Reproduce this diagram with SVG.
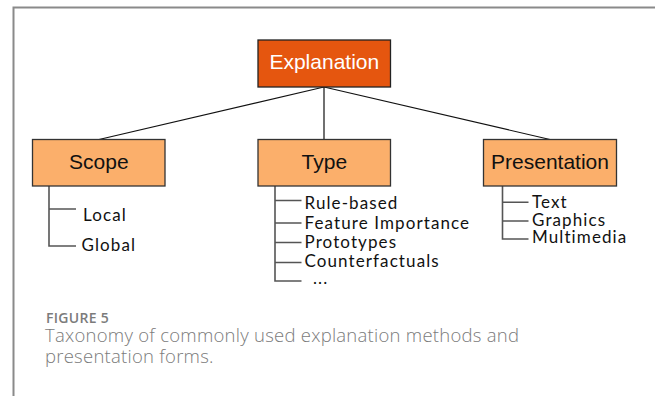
<svg xmlns="http://www.w3.org/2000/svg" width="655" height="396" viewBox="0 0 655 396">
<style>
.frame{stroke:#8a8a8a;stroke-width:2;fill:none}
.box{fill:#FBAF6B;stroke:#333;stroke-width:1.3}
.root{fill:#E5560F;stroke:#222;stroke-width:1.3}
.lbl{font-family:"Liberation Sans",Arial,sans-serif;font-size:21px;text-anchor:middle;fill:#111}
.rlbl{font-family:"Liberation Sans",Arial,sans-serif;font-size:21px;text-anchor:middle;fill:#fff}
.item{font-family:Lato,"Open Sans",sans-serif;font-size:17px;letter-spacing:1.1px;fill:#111}
.edge{stroke:#111;stroke-width:1.2;fill:none}
.tree{stroke:#555;stroke-width:1.6;fill:none}
.cap1{font-family:"Open Sans",sans-serif;font-size:14px;font-weight:600;letter-spacing:0.3px;fill:#7b7b7b}
.cap2{font-family:"Open Sans",sans-serif;font-size:18.5px;font-weight:300;letter-spacing:0.25px;fill:#7b7b7b}
</style>
<path class="frame" d="M13.5,396 V7.5 H655"/>
<g id="connectors">
<path class="edge" d="M324,87 L99,139.5"/>
<path class="edge" d="M324,87 V139.5"/>
<path class="edge" d="M324,87 L550,139.5"/>
<path class="tree" d="M49,186 V246 H76 M49,209 H76"/>
<path class="tree" d="M275,186 V281 H301.5 M275,200.5 H301.5 M275,223 H301.5 M275,242.5 H301.5 M275,262.5 H301.5"/>
<path class="tree" d="M502.5,186 V239 H528.5 M502.5,202.3 H528.5 M502.5,221 H528.5"/>
</g>
<g id="explanation">
<rect class="root" x="258" y="40" width="132.5" height="47"/>
<text class="rlbl" x="324.3" y="69.3">Explanation</text>
</g>
<g id="scope">
<rect class="box" x="32.5" y="139.5" width="132.5" height="46.5"/>
<text class="lbl" x="98.8" y="169.3">Scope</text>
<text class="item" x="83" y="220.5">Local</text>
<text class="item" x="81.5" y="250.5">Global</text>
</g>
<g id="type">
<rect class="box" x="258" y="139.5" width="132.5" height="46.5"/>
<text class="lbl" x="324.3" y="169.3">Type</text>
<text class="item" x="304.5" y="209.3">Rule-based</text>
<text class="item" x="304.5" y="229">Feature Importance</text>
<text class="item" x="304.5" y="248">Prototypes</text>
<text class="item" x="304.5" y="266.7">Counterfactuals</text>
<text class="item" x="313" y="284">...</text>
</g>
<g id="presentation">
<rect class="box" x="483.5" y="139.5" width="133" height="46.5"/>
<text class="lbl" x="550" y="169.3">Presentation</text>
<text class="item" x="532" y="208.3">Text</text>
<text class="item" x="532" y="225.7">Graphics</text>
<text class="item" x="532" y="243.3">Multimedia</text>
</g>
<text class="cap1" x="46" y="323.3">FIGURE 5</text>
<text class="cap2" x="45" y="342">Taxonomy of commonly used explanation methods and</text>
<text class="cap2" x="45" y="362.5">presentation forms.</text>
</svg>
